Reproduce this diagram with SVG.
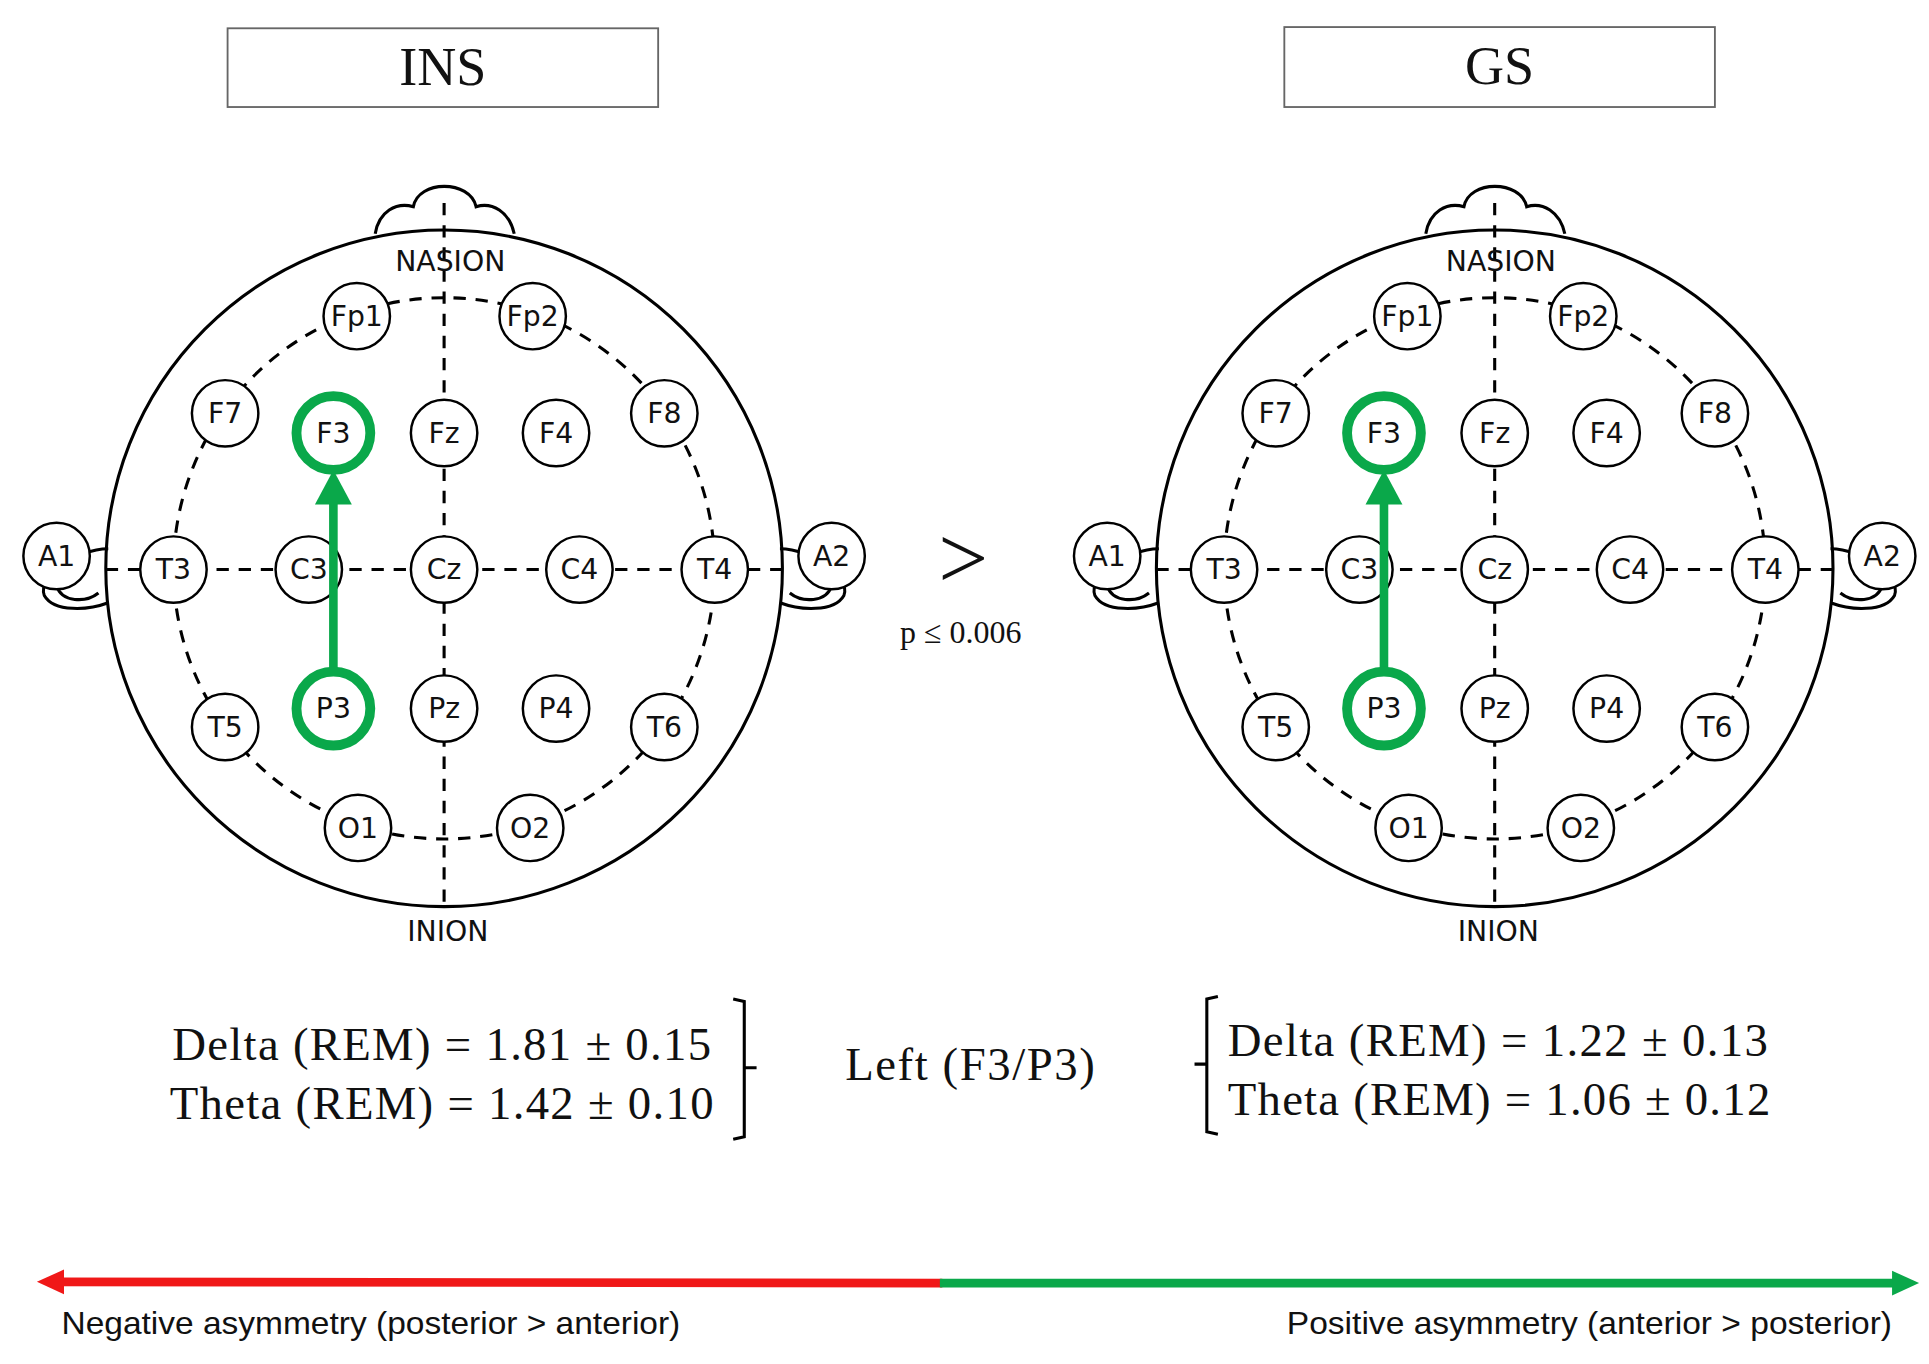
<svg xmlns="http://www.w3.org/2000/svg" xmlns:xlink="http://www.w3.org/1999/xlink" width="1929" height="1364" viewBox="0 0 1929 1364">
<style>
.ol{fill:none;stroke:#000;stroke-width:2.5}
.ds{fill:none;stroke:#000;stroke-width:2.5;stroke-dasharray:10 8}
.el circle{fill:#fff;stroke:#000;stroke-width:2}
.el text{font-family:"DejaVu Sans",sans-serif;font-size:23px;text-anchor:middle;fill:#111}
.lm{font-family:"DejaVu Sans",sans-serif;font-size:23px;text-anchor:middle;fill:#111}
.gr{fill:#fff;stroke:#0aa84a;stroke-width:8}
.sf{font-family:"Liberation Serif",serif;fill:#111}
.sn{font-family:"Liberation Sans","DejaVu Sans",sans-serif;fill:#111;font-size:26px}
</style>
<rect width="1929" height="1364" fill="#fff"/>
<g transform="scale(1.2302)">
<g id="boxINS"><rect x="185" y="23" width="350" height="64" fill="#fff" stroke="#666" stroke-width="1.5"/><text class="sf" x="360" y="69" font-size="44" text-anchor="middle">INS</text></g>
<g id="boxGS"><rect x="1044" y="22" width="350" height="65" fill="#fff" stroke="#666" stroke-width="1.5"/><text class="sf" x="1219" y="68" font-size="44" text-anchor="middle">GS</text></g>
<g id="headL">
<path class="ol" d="M305,190 C308,172 322,164 336,168 C340,146 382,146 387,168 C400,164 414,172 418,190"/>
<path class="ol" d="M88,446 C62,446 30,470 36,484 C44,498 72,496 88,490"/>
<path class="ol" d="M46,476 C50,490 70,490 80,482"/>
<path class="ol" d="M634,446 C660,446 692,470 686,484 C678,498 650,496 634,490"/>
<path class="ol" d="M676,476 C672,490 652,490 642,482"/>
<circle class="ol" cx="361" cy="462" r="275" fill="#fff"/>
<circle class="ds" cx="361" cy="462" r="220"/>
<line class="ds" x1="361" y1="165" x2="361" y2="737"/>
<line class="ds" x1="86" y1="463" x2="636" y2="463"/>
<text class="lm" x="366" y="220">NASION</text>
<text class="lm" x="364" y="765">INION</text>
<g class="el">
<g id="Fp1"><circle cx="290" cy="257" r="27"/><text x="290" y="265">Fp1</text></g>
<g id="Fp2"><circle cx="433" cy="257" r="27"/><text x="433" y="265">Fp2</text></g>
<g id="F7"><circle cx="183" cy="336" r="27"/><text x="183" y="344">F7</text></g>
<g id="Fz"><circle cx="361" cy="352" r="27"/><text x="361" y="360">Fz</text></g>
<g id="F4"><circle cx="452" cy="352" r="27"/><text x="452" y="360">F4</text></g>
<g id="F8"><circle cx="540" cy="336" r="27"/><text x="540" y="344">F8</text></g>
<g id="A1"><circle cx="46" cy="452" r="27"/><text x="46" y="460">A1</text></g>
<g id="T3"><circle cx="141" cy="463" r="27"/><text x="141" y="471">T3</text></g>
<g id="C3"><circle cx="251" cy="463" r="27"/><text x="251" y="471">C3</text></g>
<g id="Cz"><circle cx="361" cy="463" r="27"/><text x="361" y="471">Cz</text></g>
<g id="C4"><circle cx="471" cy="463" r="27"/><text x="471" y="471">C4</text></g>
<g id="T4"><circle cx="581" cy="463" r="27"/><text x="581" y="471">T4</text></g>
<g id="A2"><circle cx="676" cy="452" r="27"/><text x="676" y="460">A2</text></g>
<g id="T5"><circle cx="183" cy="591" r="27"/><text x="183" y="599">T5</text></g>
<g id="Pz"><circle cx="361" cy="576" r="27"/><text x="361" y="584">Pz</text></g>
<g id="P4"><circle cx="452" cy="576" r="27"/><text x="452" y="584">P4</text></g>
<g id="T6"><circle cx="540" cy="591" r="27"/><text x="540" y="599">T6</text></g>
<g id="O1"><circle cx="291" cy="673" r="27"/><text x="291" y="681">O1</text></g>
<g id="O2"><circle cx="431" cy="673" r="27"/><text x="431" y="681">O2</text></g>
</g>
<g id="conn">
<line x1="271" y1="545" x2="271" y2="405" stroke="#0aa84a" stroke-width="7"/>
<polygon points="256,410 286,410 271,382" fill="#0aa84a"/>
</g>
<g id="F3"><circle class="gr" cx="271" cy="352" r="30"/><text class="lm" x="271" y="360">F3</text></g>
<g id="P3"><circle class="gr" cx="271" cy="576" r="30"/><text class="lm" x="271" y="584">P3</text></g>
</g>
<use xlink:href="#headL" x="854"/>
<text class="sf" x="783" y="478" font-size="72" text-anchor="middle">&gt;</text>
<text class="sf" x="781" y="523" font-size="26" text-anchor="middle">p ≤ 0.006</text>
<text class="sf" x="140" y="862" font-size="38" textLength="438">Delta (REM) = 1.81 ± 0.15</text>
<text class="sf" x="138" y="910" font-size="38" textLength="442">Theta (REM) = 1.42 ± 0.10</text>
<path class="ol" stroke-width="2" d="M596,812 L605,814 L605,924 L596,926 M605,868 L615,868"/>
<text class="sf" x="687" y="878" font-size="38" textLength="203">Left (F3/P3)</text>
<path class="ol" stroke-width="2" d="M990,810 L981,812 L981,920 L990,922 M981,865 L971,865"/>
<text class="sf" x="998" y="858" font-size="38" textLength="439">Delta (REM) = 1.22 ± 0.13</text>
<text class="sf" x="998" y="906" font-size="38" textLength="441">Theta (REM) = 1.06 ± 0.12</text>
<g id="scale">
<line x1="45" y1="1042" x2="766" y2="1043" stroke="#f01818" stroke-width="7"/>
<polygon points="30,1042 52,1032 52,1052" fill="#f01818"/>
<line x1="764" y1="1043" x2="1545" y2="1043" stroke="#0aa84a" stroke-width="7"/>
<polygon points="1560,1043 1538,1033 1538,1053" fill="#0aa84a"/>
</g>
<text class="sn" x="50" y="1084" textLength="503" lengthAdjust="spacingAndGlyphs">Negative asymmetry (posterior &gt; anterior)</text>
<text class="sn" x="1046" y="1084" textLength="492" lengthAdjust="spacingAndGlyphs">Positive asymmetry (anterior &gt; posterior)</text>
</g>
</svg>
